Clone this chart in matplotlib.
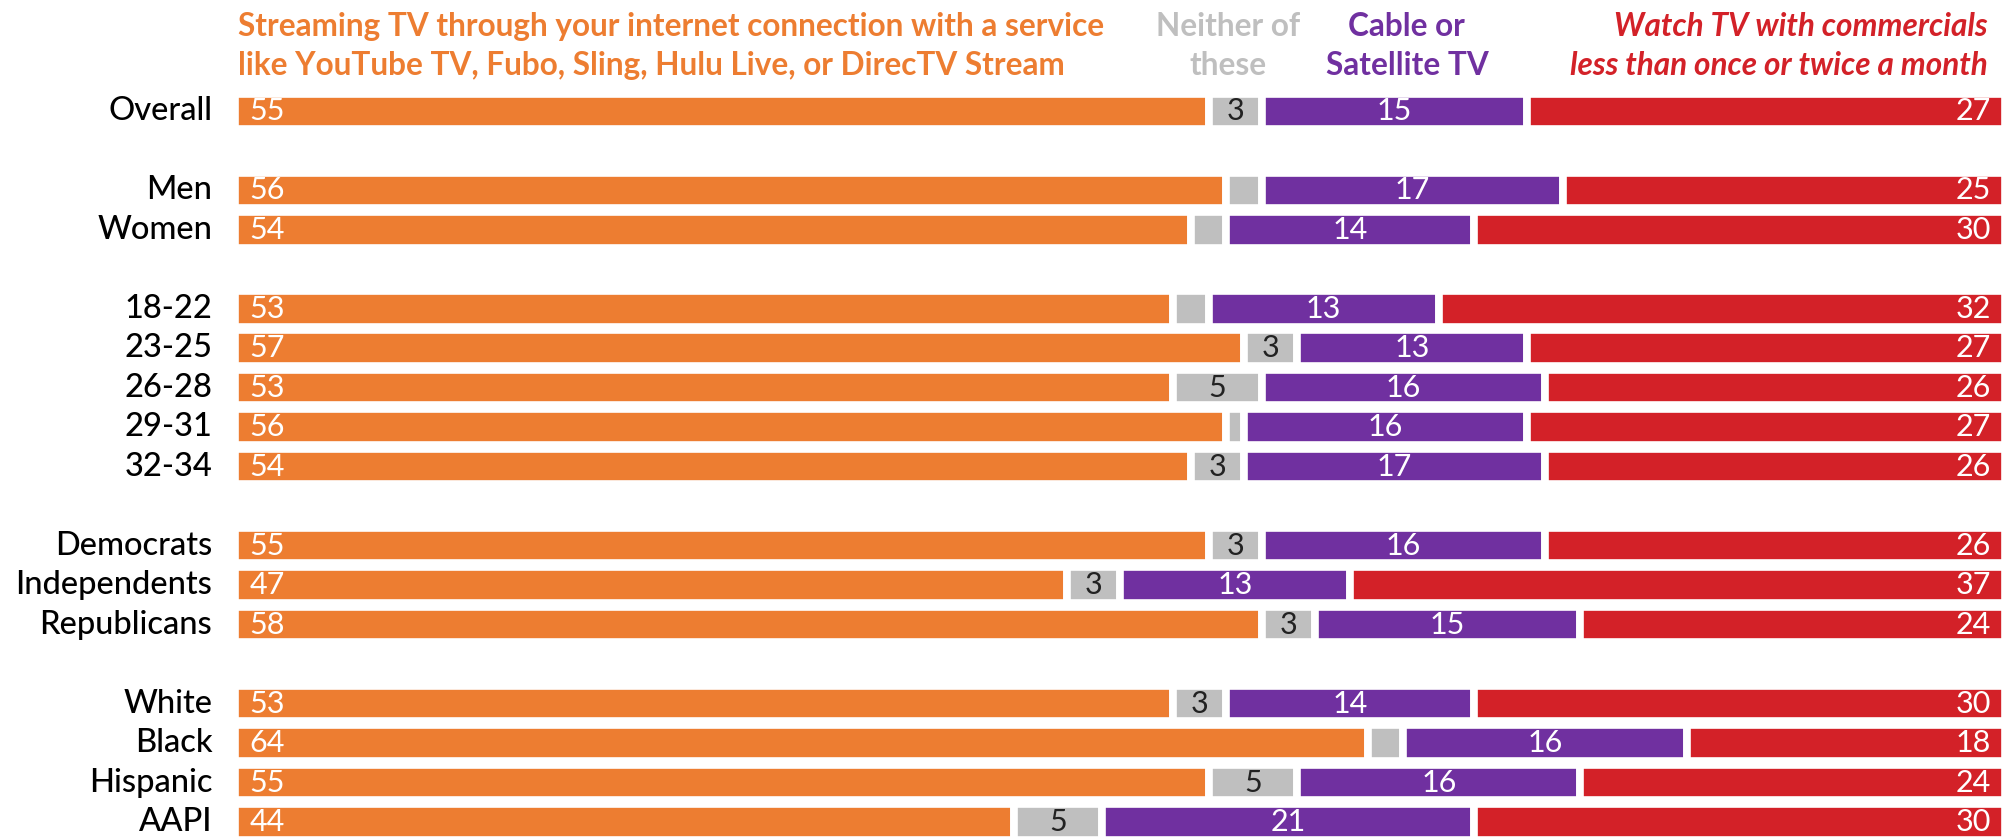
#!/usr/bin/env python3
# Stacked horizontal bars: how people watch TV, split by demographic group.
# deps: matplotlib

import matplotlib
matplotlib.use("Agg")  # headless
import matplotlib.pyplot as plt

# --- data -------------------------------------------------------------
group_labels = [
    ["Overall"],
    ["Men", "Women"],
    ["18-22", "23-25", "26-28", "29-31", "32-34"],
    ["Democrats", "Independents", "Republicans"],
    ["White", "Black", "Hispanic", "AAPI"],
]

streaming = [55, 56, 54, 53, 57, 53, 56, 54, 55, 47, 58, 53, 64, 55, 44]
neither = [3, 2, 2, 2, 3, 5, 1, 3, 3, 3, 3, 3, 2, 5, 5]
cable = [15, 17, 14, 13, 13, 16, 16, 17, 16, 13, 15, 14, 16, 16, 21]
watch_less = [27, 25, 30, 32, 27, 26, 27, 26, 26, 37, 24, 30, 18, 24, 30]

series_names = [
    "Streaming TV through your internet connection with a service\n"
    "like YouTube TV, Fubo, Sling, Hulu Live, or DirecTV Stream",
    "Neither of\nthese",
    "Cable or\nSatellite TV",
    "Watch TV with commercials\nless than once or twice a month",
]

ORANGE = "#ED7D31"
GRAY = "#BFBFBF"
PURPLE = "#7030A0"
RED = "#D32128"

FONT = ["Lato", "DejaVu Sans"]
plt.rcParams["font.family"] = FONT

# row positions, leaving one empty row between groups
labels, ypos = [], []
y = 0
for grp in group_labels:
    for name in grp:
        labels.append(name)
        ypos.append(y)
        y += 1
    y += 1

fig = plt.figure(figsize=(20.08, 8.38), dpi=100)
ax = fig.add_axes([0, 0, 1, 1])
ax.set_xlim(-13.26, 100.15)
ax.set_ylim(18.405, -2.82)
ax.axis("off")

bar_kw = dict(height=0.9, edgecolor="white", linewidth=5.5)
num_size = 22

left = [0] * len(streaming)
segments = [(streaming, ORANGE), (neither, GRAY), (cable, PURPLE), (watch_less, RED)]
for i, (vals, color) in enumerate(segments):
    ax.barh(ypos, vals, left=left, color=color, **bar_kw)
    for yy, v, l in zip(ypos, vals, left):
        if v < 3:
            continue  # too thin for a label
        if i == 0:
            ax.text(l + 0.85, yy, str(v), color="white", fontsize=num_size,
                    ha="left", va="center")
        elif i == 1:
            ax.text(l + v / 2, yy, str(v), color="#222222", fontsize=num_size,
                    ha="center", va="center")
        elif i == 2:
            ax.text(l + v / 2, yy, str(v), color="white", fontsize=num_size,
                    ha="center", va="center")
        else:
            ax.text(l + v - 0.8, yy, str(v), color="white", fontsize=num_size,
                    ha="right", va="center")
    left = [a + b for a, b in zip(left, vals)]

# row labels
for yy, name in zip(ypos, labels):
    ax.text(-1.27, yy, name, color="black", fontsize=23.5, fontweight="medium",
            ha="right", va="center")

# column headers (y is the baseline of the last line)
head_y = -0.92
head_kw = dict(fontsize=22.7, fontweight="bold", va="baseline", linespacing=1.4)
ax.text(0.2, head_y, series_names[0], color=ORANGE, ha="left", **head_kw)
ax.text(56.1, head_y, series_names[1], color=GRAY, ha="center", **head_kw)
ax.text(66.2, head_y, series_names[2], color=PURPLE, ha="center", **head_kw)
ax.text(99.0, head_y, series_names[3], color=RED, ha="right",
        fontstyle="italic", **head_kw)

fig.savefig("out.png", dpi=100)
